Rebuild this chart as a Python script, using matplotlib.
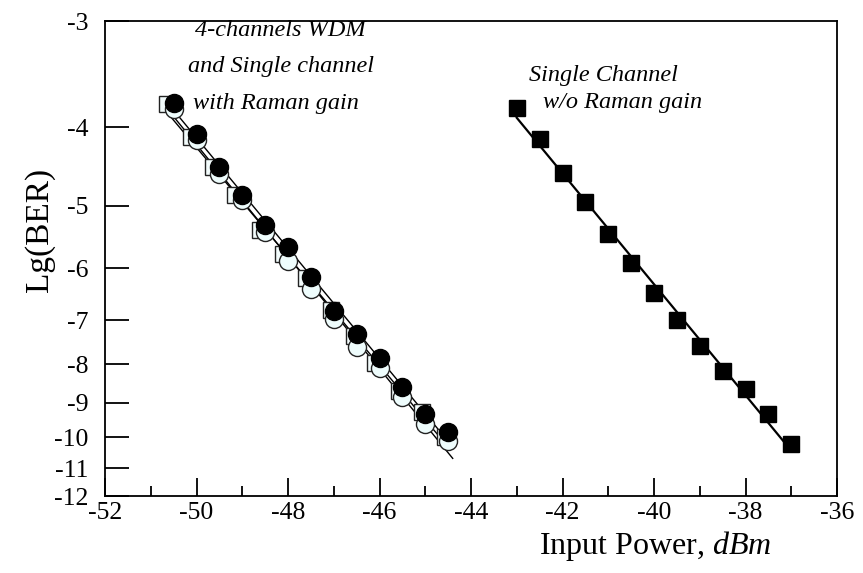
"""BER versus input power, with and without Raman gain."""

import matplotlib
import matplotlib.pyplot as plt
import numpy as np

matplotlib.use('Agg')

# left group: 4-channel WDM and single channel with Raman gain
x_wdm_sq = [-50.65, -50.13, -49.65, -49.15, -48.62, -48.12, -47.61, -47.07, -46.55, -46.10, -45.58, -45.07, -44.56]
lg_wdm_sq = [-3.75, -4.11, -4.48, -4.85, -5.36, -5.76, -6.18, -6.79, -7.34, -7.96, -8.67, -9.25, -9.99]

x_open_circ = [-50.5, -50.0, -49.5, -49.0, -48.5, -48.0, -47.5, -47.0, -46.5, -46.0, -45.5, -45.0, -44.5]
lg_open_circ = [-3.80, -4.15, -4.56, -4.92, -5.40, -5.87, -6.39, -6.97, -7.59, -8.09, -8.84, -9.61, -10.12]

x_fill_circ = [-50.5, -50.0, -49.5, -49.0, -48.5, -48.0, -47.5, -47.0, -46.5, -46.0, -45.5, -45.0, -44.5]
lg_fill_circ = [-3.74, -4.08, -4.48, -4.85, -5.29, -5.64, -6.15, -6.82, -7.29, -7.86, -8.57, -9.32, -9.83]

# right group: single channel without Raman gain
x_single = [-43.0, -42.5, -42.0, -41.5, -41.0, -40.5, -40.0, -39.5, -39.0, -38.5, -38.0, -37.5, -37.0]
lg_single = [-3.79, -4.14, -4.55, -4.94, -5.42, -5.90, -6.45, -7.00, -7.56, -8.17, -8.63, -9.32, -10.22]

x_ticks = list(range(-52, -35, 2))
y_ticks = list(range(-3, -13, -1))

SHIFT = 0.6


def fwd(y):
    y = np.asarray(y, dtype=float)
    return -np.log10(np.clip(-y - SHIFT, 1e-6, None))


def inv(t):
    t = np.asarray(t, dtype=float)
    return -(10.0 ** (-t)) - SHIFT


def fit_line(ax, xs, ys, x0, x1, lw):
    b, a = np.polyfit(xs, fwd(ys), 1)
    xx = np.linspace(x0, x1, 50)
    ax.plot(xx, inv(a + b * xx), color='black', lw=lw, zorder=2)


def main() -> None:
    plt.rcParams['font.family'] = ['Liberation Serif', 'DejaVu Serif']
    plt.rcParams['mathtext.fontset'] = 'custom'
    plt.rcParams['mathtext.it'] = 'Liberation Serif:italic'
    plt.rcParams['mathtext.rm'] = 'Liberation Serif'

    fig = plt.figure(figsize=(8.63, 5.73), dpi=100)
    ax = fig.add_axes([105 / 863, 1 - 496 / 573, 732 / 863, 475 / 573])
    ax.set_yscale('function', functions=(fwd, inv))

    # fitted lines under the markers
    fit_line(ax, x_wdm_sq, lg_wdm_sq, -50.7, -44.5, 1.0)
    fit_line(ax, x_open_circ, lg_open_circ, -50.55, -44.4, 1.0)
    fit_line(ax, x_fill_circ, lg_fill_circ, -50.55, -44.5, 1.0)
    fit_line(ax, x_single, lg_single, -43.0, -37.0, 1.6)

    ax.plot(x_wdm_sq, lg_wdm_sq, ls='none', marker='s', ms=11, mfc='#f2fbfb',
            mec='#222222', mew=1.0, zorder=3)
    ax.plot(x_open_circ, lg_open_circ, ls='none', marker='o', ms=13, mfc='#eefcfc',
            mec='#222222', mew=1.0, zorder=4)
    ax.plot(x_fill_circ, lg_fill_circ, ls='none', marker='o', ms=13, mfc='black',
            mec='black', mew=1.0, zorder=5)
    ax.plot(x_single, lg_single, ls='none', marker='s', ms=12, mfc='black',
            mec='black', zorder=5)

    ax.set_xlim(-52, -36)
    ax.set_ylim(-12, -3)
    ax.set_xticks(x_ticks)
    ax.set_xticklabels([str(t) for t in x_ticks])
    ax.set_xticks(list(range(-51, -36, 2)), minor=True)
    ax.set_yticks(y_ticks)
    ax.set_yticklabels([str(t) for t in y_ticks])
    ax.yaxis.set_minor_locator(matplotlib.ticker.NullLocator())
    ax.tick_params(axis='x', which='major', direction='in', length=13, width=1.3,
                   labelsize=18.5, pad=4)
    ax.tick_params(axis='x', which='minor', direction='in', length=7, width=1.3)
    ax.tick_params(axis='y', which='major', direction='in', length=17, width=1.3,
                   labelsize=18.5, pad=12)
    for sp in ax.spines.values():
        sp.set_linewidth(1.3)

    ax.set_ylabel('Lg(BER)', fontsize=24, va='center')
    ax.yaxis.set_label_coords(-0.090, 0.560)
    ax.set_xlabel('Input Power, $\\mathit{dBm}$', fontsize=23, va='center')
    ax.xaxis.set_label_coords(0.752, -0.105)

    txt = dict(transform=ax.transAxes, fontsize=17.5, style='italic', ha='center', va='center')
    ax.text(0.240, 0.981, '4-channels WDM', **txt)
    ax.text(0.241, 0.905, 'and Single channel', **txt)
    ax.text(0.233, 0.827, 'with Raman gain', **txt)
    ax.text(0.681, 0.886, 'Single Channel', **txt)
    ax.text(0.707, 0.829, 'w/o Raman gain', **txt)

    fig.savefig('out.png', dpi=100)
    plt.close(fig)


if __name__ == '__main__':
    main()
